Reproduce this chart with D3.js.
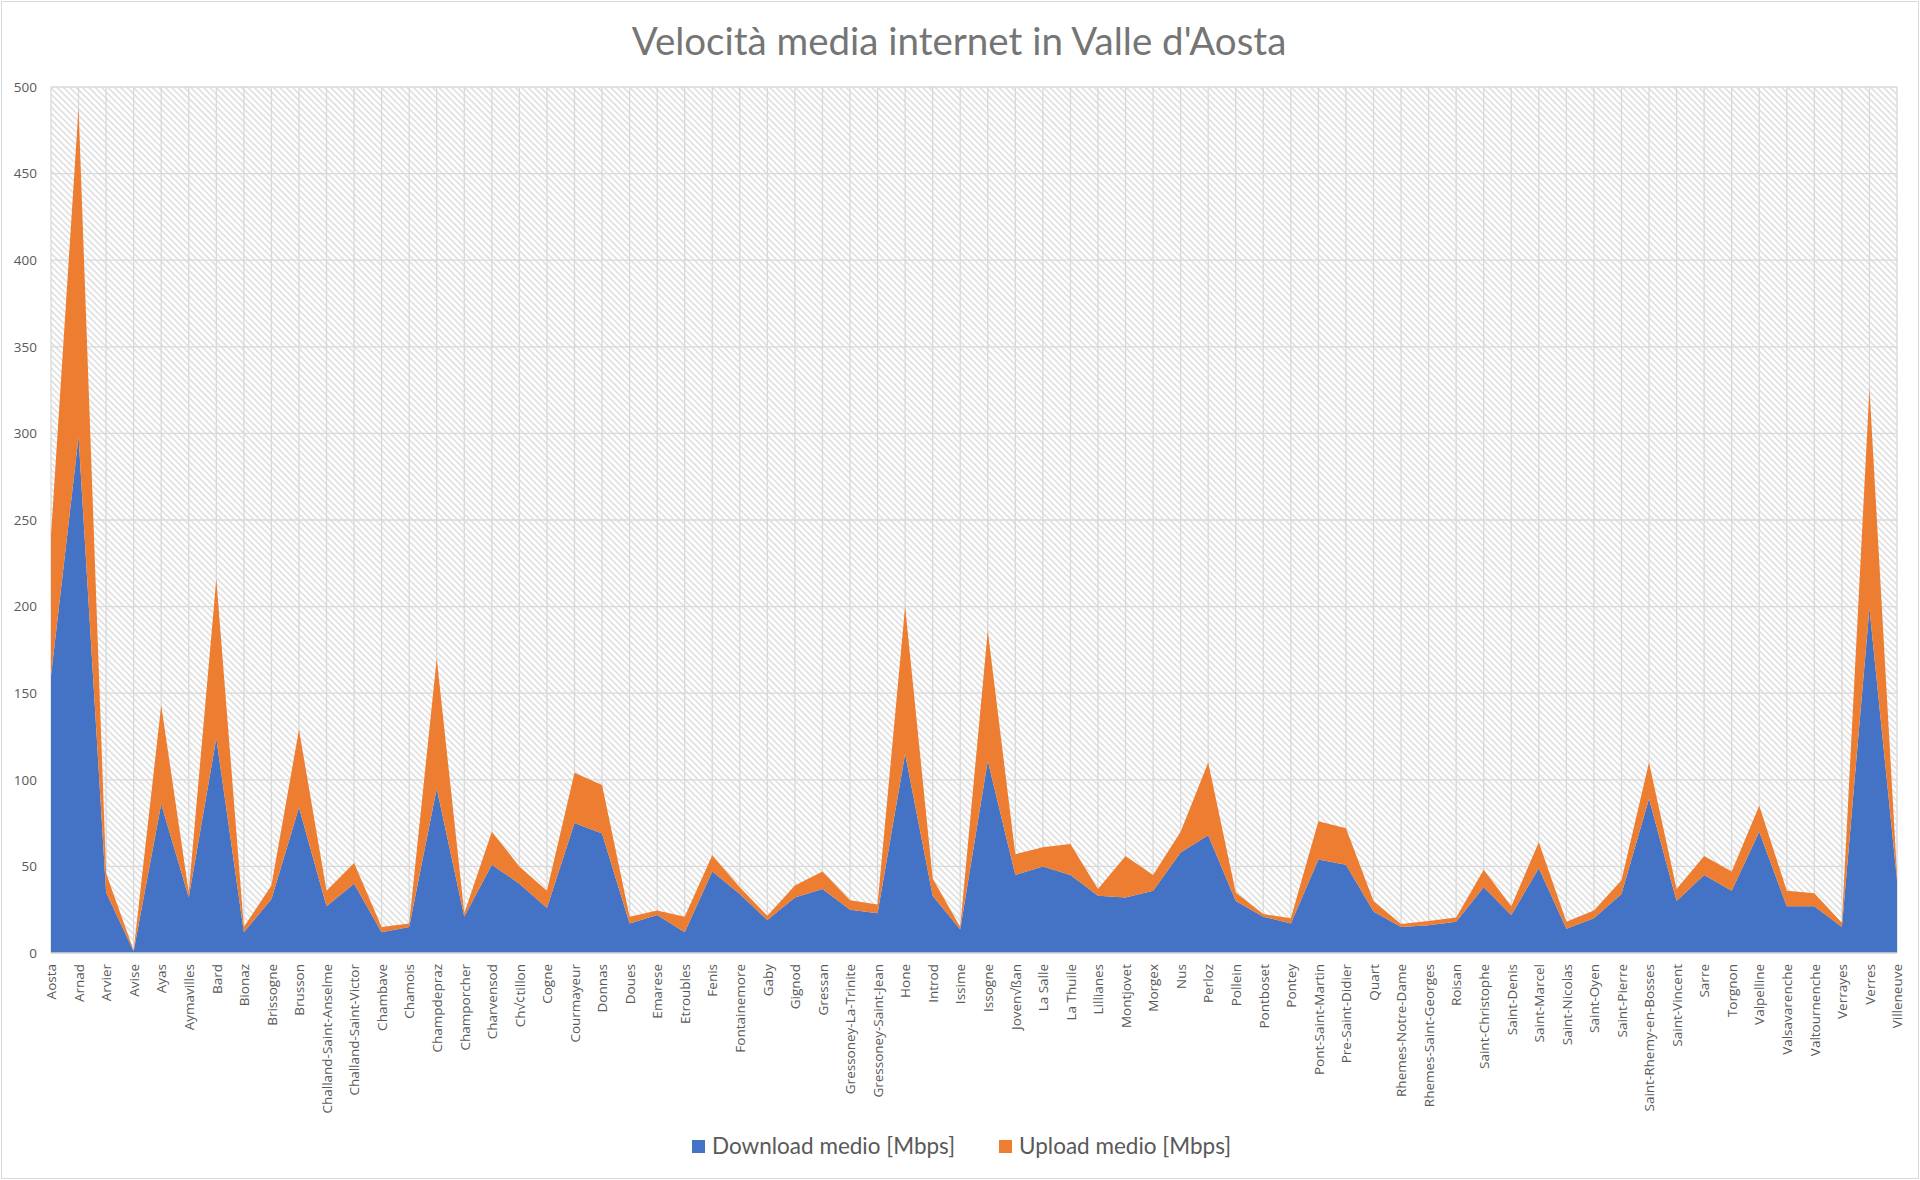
<!DOCTYPE html>
<html>
<head>
<meta charset="utf-8">
<script src="https://cdn.jsdelivr.net/npm/d3@7"></script>
<style>
  html, body { margin: 0; padding: 0; background: #fff; }
  svg { display: block; }
</style>
</head>
<body>
<svg id="chart" width="1920" height="1180"></svg>
<script>
const categories = ["Aosta","Arnad","Arvier","Avise","Ayas","Aymavilles","Bard","Bionaz","Brissogne","Brusson","Challand-Saint-Anselme","Challand-Saint-Victor","Chambave","Chamois","Champdepraz","Champorcher","Charvensod","Ch\u221A\u00A2tillon","Cogne","Courmayeur","Donnas","Doues","Emarese","Etroubles","Fenis","Fontainemore","Gaby","Gignod","Gressan","Gressoney-La-Trinite","Gressoney-Saint-Jean","Hone","Introd","Issime","Issogne","Joven\u221A\u00DFan","La Salle","La Thuile","Lillianes","Montjovet","Morgex","Nus","Perloz","Pollein","Pontboset","Pontey","Pont-Saint-Martin","Pre-Saint-Didier","Quart","Rhemes-Notre-Dame","Rhemes-Saint-Georges","Roisan","Saint-Christophe","Saint-Denis","Saint-Marcel","Saint-Nicolas","Saint-Oyen","Saint-Pierre","Saint-Rhemy-en-Bosses","Saint-Vincent","Sarre","Torgnon","Valpelline","Valsavarenche","Valtournenche","Verrayes","Verres","Villeneuve"];

const download = [160,298,35,1,86,32,124,12,31,84,27,40,12,15,95,21,51,40,26,75,69,17,22,12,47,34,19,32,37,25,23,115,33,13.5,111,45,50,45,33,32,36,58,68,30,21,17,54,51,24,15,16,18,38,22,49,14,20,34,89,30,45,36,70,27,27,15,199,42];

const upload = [81,190,11,0.5,57,3,92,3,8,45,9,12,3,2,75,2,19,10,10,29,28,4,2.5,9,9.5,4,2.5,7,10,5.5,5,85,10,1.5,75,12,11,18,4,24,9,12,42,5,1.5,3,22,21,6,1.7,2.5,2.5,10,5,15,4,4.5,8,21,7,11,11,15,9,7.5,2.5,127,3];

const yTicks = [0,50,100,150,200,250,300,350,400,450,500];
const seriesNames = ["Download medio [Mbps]","Upload medio [Mbps]"];
const seriesColors = ["#4472C4","#ED7D31"];
const title = "Velocit\u00E0 media internet in Valle d'Aosta";

const W = 1920, H = 1180;
const plot = {left: 51, right: 1897, top: 87, bottom: 953};
const svg = d3.select("#chart");

// outer border
svg.append("rect").attr("x", 1.5).attr("y", 1.5).attr("width", W - 3).attr("height", H - 3)
  .attr("fill", "#fff").attr("stroke", "#d9d9d9").attr("stroke-width", 1);

// hatch pattern
const defs = svg.append("defs");
const pat = defs.append("pattern").attr("id", "hatch").attr("patternUnits", "userSpaceOnUse")
  .attr("width", 4.5).attr("height", 4.5).attr("patternTransform", "rotate(-45)");
pat.append("rect").attr("width", 4.5).attr("height", 4.5).attr("fill", "#ffffff");
pat.append("line").attr("x1", 1).attr("y1", 0).attr("x2", 1).attr("y2", 4.5)
  .attr("stroke", "#d6d6d6").attr("stroke-width", 1.3);

const x = d3.scalePoint().domain(categories).range([plot.left, plot.right]);
const y = d3.scaleLinear().domain([0, 500]).range([plot.bottom, plot.top]);

svg.append("rect").attr("x", plot.left).attr("y", plot.top)
  .attr("width", plot.right - plot.left).attr("height", plot.bottom - plot.top)
  .attr("fill", "url(#hatch)");

// gridlines
const grid = svg.append("g");
grid.selectAll("line.h").data(yTicks).join("line").attr("class", "h")
  .attr("x1", plot.left).attr("x2", plot.right)
  .attr("y1", d => y(d)).attr("y2", d => y(d))
  .attr("stroke", "#d9d9d9").attr("stroke-width", 1.3);
grid.selectAll("line.v").data(categories).join("line").attr("class", "v")
  .attr("x1", d => x(d)).attr("x2", d => x(d))
  .attr("y1", plot.top).attr("y2", plot.bottom)
  .attr("stroke", "#d9d9d9").attr("stroke-width", 1.3);

// stacked areas
const rows = categories.map((c, i) => ({cat: c, d: download[i], u: upload[i]}));
const stack = d3.stack().keys(["d", "u"]);
const layers = stack(rows);
const area = d3.area()
  .x(p => x(p.data.cat))
  .y0(p => y(p[0]))
  .y1(p => y(p[1]));
svg.append("g").selectAll("path").data(layers).join("path")
  .attr("d", area)
  .attr("fill", (d, i) => seriesColors[i]);

// x axis line
svg.append("line").attr("x1", plot.left).attr("x2", plot.right)
  .attr("y1", plot.bottom).attr("y2", plot.bottom)
  .attr("stroke", "#d9d9d9").attr("stroke-width", 1.3);

// y axis labels
const yAxis = d3.axisLeft(y).tickValues(yTicks).tickSize(0).tickPadding(14);
const gy = svg.append("g").attr("transform", `translate(${plot.left},0)`).call(yAxis);
gy.select(".domain").remove();
gy.selectAll("text").attr("font-family", "'Open Sans', sans-serif").attr("font-size", 13.5).attr("fill", "#595959");

// x axis labels
const xAxis = d3.axisBottom(x).tickSize(0).tickPadding(0);
const gx = svg.append("g").attr("transform", `translate(0,${plot.bottom})`).call(xAxis);
gx.select(".domain").remove();
gx.selectAll("text")
  .attr("font-family", "'Open Sans', sans-serif").attr("font-size", 13.5).attr("fill", "#595959")
  .attr("text-anchor", "end")
  .attr("transform", "rotate(-90)")
  .attr("x", -11).attr("y", 0).attr("dy", "0.35em");

// title
svg.append("text").attr("x", 959).attr("y", 55).attr("text-anchor", "middle")
  .attr("font-family", "Lato, 'Open Sans', sans-serif").attr("font-size", 38.5)
  .attr("fill", "#757575").text(title);

// legend
const legend = svg.append("g");
const legX = [692, 999];
seriesNames.forEach((n, i) => {
  legend.append("rect").attr("x", legX[i]).attr("y", 1140).attr("width", 13).attr("height", 13)
    .attr("fill", seriesColors[i]);
  legend.append("text").attr("x", legX[i] + 20).attr("y", 1154)
    .attr("font-family", "Lato, 'Open Sans', sans-serif").attr("font-size", 22.5)
    .attr("fill", "#595959").text(n);
});
</script>
</body>
</html>
